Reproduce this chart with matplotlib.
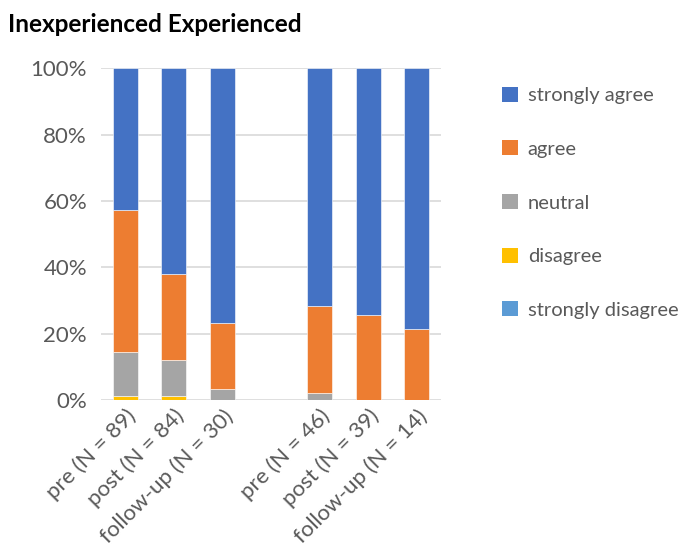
import numpy as np
import matplotlib.pyplot as plt
from matplotlib.patches import Patch

plt.rcParams['font.family'] = ['Lato', 'DejaVu Sans']

# Categories (blank slot separates the two groups)
labels = ['pre (N = 89)', 'post (N = 84)', 'follow-up (N = 30)', '',
          'pre (N = 46)', 'post (N = 39)', 'follow-up (N = 14)']

# Shares in percent per response level (blank slot = 0)
strongly_disagree = [0.0, 0.0, 0.0, 0.0, 0.0, 0.0, 0.0]
disagree = [1.1, 1.2, 0.0, 0.0, 0.0, 0.0, 0.0]
neutral = [13.5, 10.7, 3.3, 0.0, 2.2, 0.0, 0.0]
agree = [42.7, 26.2, 20.0, 0.0, 26.1, 25.6, 21.4]
strongly_agree = [42.7, 61.9, 76.7, 0.0, 71.7, 74.4, 78.6]

series = [
    ('strongly disagree', strongly_disagree, '#5B9BD5'),
    ('disagree', disagree, '#FFC000'),
    ('neutral', neutral, '#A5A5A5'),
    ('agree', agree, '#ED7D31'),
    ('strongly agree', strongly_agree, '#4472C4'),
]

fig = plt.figure(figsize=(6.89, 5.54), dpi=100)
ax = fig.add_axes([0.1466, 0.278, 0.4935, 0.599])

x = np.arange(len(labels))
bottom = np.zeros(len(labels))
handles = []
for name, vals, col in series:
    vals = np.array(vals)
    ax.bar(x, vals, 0.52, bottom=bottom, color=col, edgecolor='white',
           linewidth=0.4, zorder=3)
    bottom += vals
    handles.append(Patch(facecolor=col, label=name))

ax.set_xlim(-0.5, 6.5)
ax.set_ylim(0, 100)
ax.set_yticks(np.arange(0, 101, 20))
ax.set_yticklabels([f'{v}%' for v in range(0, 101, 20)])
ax.grid(axis='y', color='#D9D9D9', linewidth=1.2, zorder=0)
for s in ax.spines.values():
    s.set_visible(False)
ax.tick_params(length=0, labelsize=16, labelcolor='#595959', pad=10)
ax.set_xticks(x)
ax.set_xticklabels(labels, rotation=45, ha='right', rotation_mode='anchor')
ax.tick_params(axis='x', pad=4)

fig.text(0.012, 0.955, 'Inexperienced Experienced', fontsize=17.5,
         fontweight='bold', va='center', ha='left')

fig.legend(handles=handles[::-1], loc='upper left',
           bbox_to_anchor=(0.703, 0.876), frameon=False, fontsize=14.5,
           labelcolor='#595959', handlelength=0.75, handleheight=0.75,
           labelspacing=1.8, handletextpad=0.5)

fig.savefig('out.png', dpi=100)
